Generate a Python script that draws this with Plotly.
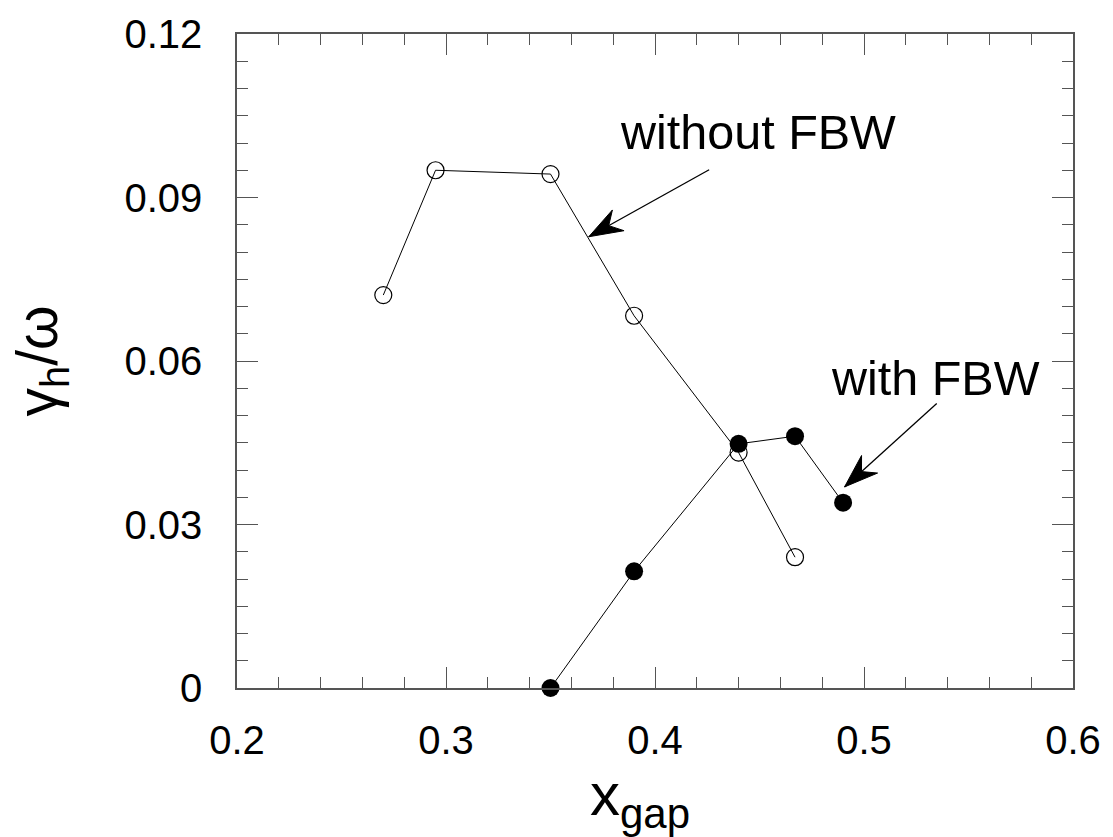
import math
import plotly.graph_objects as go

# Data
x_without = [0.27, 0.295, 0.35, 0.39, 0.44, 0.467]
y_without = [0.0721, 0.0950, 0.0943, 0.0683, 0.0432, 0.0240]

x_with = [0.35, 0.39, 0.44, 0.467, 0.49]
y_with = [0.0, 0.0214, 0.0448, 0.0462, 0.0340]

x_ticks = [0.2, 0.3, 0.4, 0.5, 0.6]
x_ticklabels = ["0.2", "0.3", "0.4", "0.5", "0.6"]
y_ticks = [0, 0.03, 0.06, 0.09, 0.12]
y_ticklabels = ["0", "0.03", "0.06", "0.09", "0.12"]

# annotation labels and arrow positions (data coordinates)
labels = ["without FBW", "with FBW"]
label_x = [0.4495, 0.5344]
label_y = [0.1020, 0.0568]
arrow_head_x = [0.3683, 0.4907]
arrow_head_y = [0.0828, 0.0369]
arrow_tail_x = [0.4259, 0.5348]
arrow_tail_y = [0.0951, 0.0522]

X_RANGE = [0.2, 0.6]
Y_RANGE = [0.0, 0.12]
W, H = 1113, 837
ML, MR, MT, MB = 236.5, 35, 27, 149
PX_X = (W - ML - MR) / (X_RANGE[1] - X_RANGE[0])
PX_Y = (H - MT - MB) / (Y_RANGE[1] - Y_RANGE[0])

FONT = "Liberation Sans, Arial, Helvetica, sans-serif"
AXC = "#555555"

fig = go.Figure()
fig.add_trace(go.Scatter(
    x=x_without, y=y_without, mode="lines+markers",
    line=dict(color="black", width=1),
    marker=dict(symbol="circle-open", size=17, color="black", line=dict(width=1.2)),
    cliponaxis=False, showlegend=False,
))
fig.add_trace(go.Scatter(
    x=x_with, y=y_with, mode="lines+markers",
    line=dict(color="black", width=1),
    marker=dict(symbol="circle", size=18, color="black"),
    cliponaxis=False, showlegend=False,
))


def arrow_head(hx, hy, tx, ty, length=34, notch=23, half=12):
    # work in pixel space (y up), return polygon in data coords
    dx = (tx - hx) * PX_X
    dy = (ty - hy) * PX_Y
    n = math.hypot(dx, dy)
    ux, uy = dx / n, dy / n          # backwards direction
    px, py = -uy, ux                 # perpendicular
    pts = [(0, 0), (length, half), (notch, 0), (length, -half), (0, 0)]
    xs = [hx + (a * ux + b * px) / PX_X for a, b in pts]
    ys = [hy + (a * uy + b * py) / PX_Y for a, b in pts]
    return xs, ys


for i in range(len(labels)):
    fig.add_trace(go.Scatter(
        x=[arrow_tail_x[i], arrow_head_x[i]], y=[arrow_tail_y[i], arrow_head_y[i]],
        mode="lines", line=dict(color="black", width=1.3),
        showlegend=False, hoverinfo="skip",
    ))
    hx, hy = arrow_head(arrow_head_x[i], arrow_head_y[i], arrow_tail_x[i], arrow_tail_y[i])
    fig.add_trace(go.Scatter(
        x=hx, y=hy, mode="lines", fill="toself", fillcolor="black",
        line=dict(color="black", width=1), showlegend=False, hoverinfo="skip",
    ))

annotations = []
for i in range(len(labels)):
    annotations.append(dict(
        x=label_x[i], y=label_y[i], xref="x", yref="y",
        text=labels[i], showarrow=False, xanchor="center", yanchor="middle",
        font=dict(family=FONT, size=48.5, color="black"),
    ))

annotations.append(dict(
    x=-0.235, y=0.50, xref="paper", yref="paper",
    text="γ<sub>h</sub>/ω", textangle=-90, showarrow=False,
    xanchor="center", yanchor="middle",
    font=dict(family=FONT, size=57, color="black"),
))
annotations.append(dict(
    x=0.482, y=-0.170, xref="paper", yref="paper",
    text="x<sub>gap</sub>", showarrow=False,
    xanchor="center", yanchor="middle",
    font=dict(family=FONT, size=60, color="black"),
))

fig.update_layout(
    width=W, height=H,
    margin=dict(l=ML, r=MR, t=MT, b=MB),
    plot_bgcolor="white", paper_bgcolor="white",
    annotations=annotations,
    font=dict(family=FONT, color="black"),
)
fig.update_xaxes(
    range=X_RANGE, tickvals=x_ticks, ticktext=x_ticklabels,
    ticks="inside", ticklen=21, tickwidth=1.3, tickcolor=AXC,
    showline=True, linecolor=AXC, linewidth=1.5, mirror="allticks",
    showgrid=False, zeroline=False, ticklabelstandoff=16,
    tickfont=dict(family=FONT, size=40, color="black"),
    minor=dict(dtick=0.02, tick0=0.2, ticks="inside", ticklen=11, tickwidth=1.3,
               tickcolor=AXC, showgrid=False),
)
fig.update_yaxes(
    range=Y_RANGE, tickvals=y_ticks, ticktext=y_ticklabels,
    ticks="inside", ticklen=21, tickwidth=1.3, tickcolor=AXC,
    showline=True, linecolor=AXC, linewidth=1.5, mirror="allticks",
    showgrid=False, zeroline=False, ticklabelstandoff=25,
    tickfont=dict(family=FONT, size=40, color="black"),
    minor=dict(dtick=0.005, tick0=0, ticks="inside", ticklen=11, tickwidth=1.3,
               tickcolor=AXC, showgrid=False),
)

fig.write_html("out.html")
